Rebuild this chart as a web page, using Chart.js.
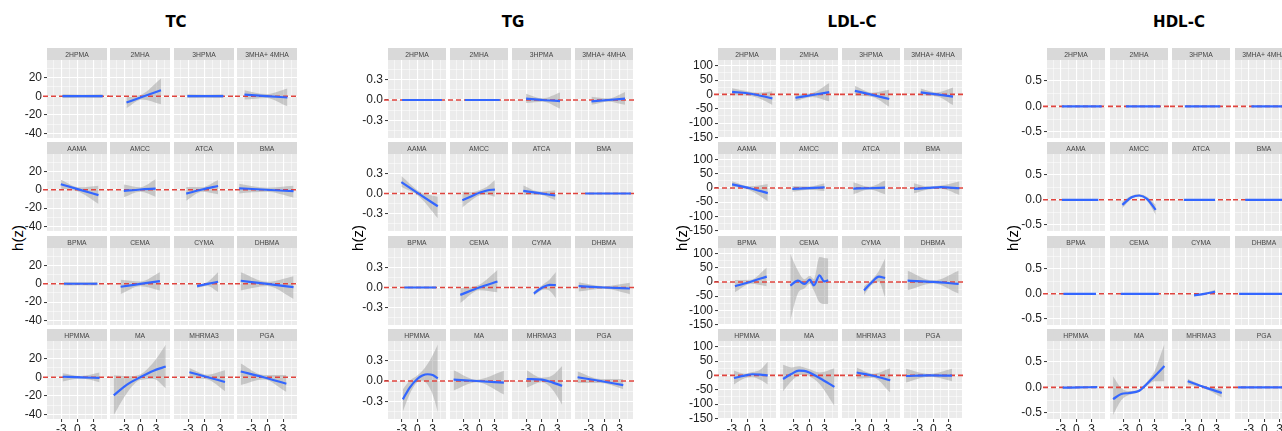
<!DOCTYPE html>
<html>
<head>
<meta charset="utf-8">
<script src="https://cdn.jsdelivr.net/npm/chart.js@4.4.1/dist/chart.umd.min.js"></script>
<style>
html, body { margin: 0; padding: 0; background: #fff; overflow: hidden; }
#wrap { position: relative; width: 1282px; height: 431px; overflow: hidden; background: #fff; }
.title { position: absolute; top: 13px; line-height: 18px; font: bold 15px "DejaVu Sans", sans-serif; color: #000; transform: translateX(-50%); white-space: nowrap; }
.strip { position: absolute; background: #D9D9D9; color: #444; font: 6.8px "Liberation Sans", Arial, sans-serif; display: flex; align-items: center; justify-content: center; white-space: nowrap; overflow: hidden; will-change: transform; }
.ylab { position: absolute; top: 238px; font: 15px "Liberation Sans", Arial, sans-serif; color: #000; transform: translate(-50%, -50%) rotate(-90deg); white-space: nowrap; }
canvas { position: absolute; }
</style>
</head>
<body>
<div id="wrap"></div>
<script>
// facet labels (same order in every block)
const FACETS = ['2HPMA', '2MHA', '3HPMA', '3MHA+ 4MHA', 'AAMA', 'AMCC', 'ATCA', 'BMA',
                'BPMA', 'CEMA', 'CYMA', 'DHBMA', 'HPMMA', 'MA', 'MHRMA3', 'PGA'];

const X_MAJOR = [-3, 0, 3];
const X_MINOR = [-4.5, -1.5, 1.5, 4.5];

const TC_MAJOR = [-40, -20, 0, 20];
const TC_MINOR = [-30, -10, 10, 30];
const TG_MAJOR = [-0.3, 0, 0.3];
const TG_MINOR = [-0.45, -0.15, 0.15, 0.45];
const LDL_MAJOR = [-150, -100, -50, 0, 50, 100];
const LDL_MINOR = [-125, -75, -25, 25, 75];
const HDL_MAJOR = [-0.5, 0, 0.5];
const HDL_MINOR = [-0.25, 0.25, 0.75];

// ---- TC ----
const TC_X = [
  [-2.8, 1, 4.8], [-2.6, 0.3, 3.9], [-3.2, 0.2, 3.6], [-4.3, -0.2, 3.8],
  [-3.1, 0.4, 4.0], [-3.1, 0, 2.9], [-3.4, -0.4, 2.6], [-5.3, -0.2, 4.95],
  [-2.5, 0.6, 3.8], [-3.7, 0, 3.7], [-1.35, 0.6, 2.6], [-5, 0, 4.95],
  [-2.75, 0.7, 4.2], [-5, -2.5, 0, 2.5, 4.8], [-2.8, 0.5, 3.9], [-5, -0.7, 3.6]
];
const TC_FIT = [
  [0, 0, 0], [-6.8, -0.9, 6.5], [0, 0, 0], [1.8, 0.2, -1.4],
  [6, 0.1, -5.8], [-1.3, 0.3, 1.2], [-4.2, 0.3, 4.1], [1.6, 0, -1.6],
  [0, 0, 0], [-3.3, -0.2, 2.9], [-2.6, -0.2, 2.2], [3.3, -0.2, -3.7],
  [0.5, -0.1, -0.8], [-19.6, -8, 0, 7, 11.5], [5.4, 0.2, -5.1], [6.2, 0, -7]
];
const TC_LO = [
  [-2, -1.6, -2], [-13, -3.5, -8.7], [-2, -1.6, -2], [-3.6, -1.8, -10.9],
  [1, -2.4, -15.5], [-8.3, -2.2, -7.5], [-12, -2.3, -5], [-4, -2.3, -8.5],
  [-2, -1.6, -2], [-11.3, -2.8, -7.3], [-4.5, -2.5, -9], [-7.3, -2.5, -16.5],
  [-4.7, -1.5, -5.4], [-41, -17, -3, -2, -12], [-1.1, -2.3, -15], [-8.5, -2.5, -16]
];
const TC_HI = [
  [2, 1.6, 2], [-1, 1.8, 19], [2, 1.6, 2], [6.5, 2.3, 8.4],
  [11, 2.6, 4.5], [5.8, 2.8, 11.4], [3, 2.8, 10.6], [6.5, 2.3, 4.5],
  [2, 1.6, 2], [4.3, 2.4, 12.6], [-0.7, 2, 12.6], [12.6, 2.1, 8.2],
  [4.4, 1.3, 5], [2, 1, 3, 16, 35], [9.8, 2.7, 7.5], [14.8, 2.5, 2.5]
];

// ---- TG ----
const TG_X = [
  [-2.95, 1, 4.8], [-2.8, 0.6, 4.0], [-3, 0.2, 3.5], [-2.5, 0.8, 4.05],
  [-3.1, 0.4, 4.0], [-3.3, -1.5, 0, 1.5, 3.05], [-3.55, -0.5, 2.6], [-3.7, 0.7, 5.2],
  [-2.5, 0.6, 3.7], [-3.7, 0, 3.55], [-1.5, -0.5, 0.5, 1.5, 2.7], [-5, 0, 5],
  [-2.8, -1.5, 0, 1, 2, 3, 4], [-5, -0.5, 4.8], [-2.9, 0, 2, 3.9], [-5.2, -0.7, 3.7]
];
const TG_FIT = [
  [0, 0, 0], [0, 0, 0], [0.02, 0, -0.015], [-0.02, 0, 0.02],
  [0.17, -0.01, -0.19], [-0.1, -0.04, 0.01, 0.045, 0.06], [0.04, 0.005, -0.03], [0, 0, 0],
  [0, 0, 0], [-0.11, 0, 0.09], [-0.09, -0.03, 0.015, 0.04, 0.035], [0.02, 0, -0.015],
  [-0.27, -0.1, 0.03, 0.08, 0.1, 0.09, 0.04], [0.02, 0, -0.025], [0.03, 0.02, -0.02, -0.07], [0.055, 0, -0.06]
];
const TG_LO = [
  [-0.012, -0.01, -0.012], [-0.012, -0.01, -0.012], [-0.044, -0.025, -0.127], [-0.07, -0.025, -0.07],
  [0.1, -0.05, -0.37], [-0.21, -0.1, -0.03, -0.02, -0.05], [-0.02, -0.02, -0.1], [-0.012, -0.01, -0.012],
  [-0.012, -0.01, -0.012], [-0.23, -0.04, -0.07], [-0.12, -0.06, -0.03, -0.05, -0.16], [-0.06, -0.02, -0.1],
  [-0.45, -0.2, -0.02, 0, -0.05, -0.2, -0.46], [-0.14, -0.02, -0.2], [-0.1, -0.02, -0.12, -0.35], [-0.03, -0.03, -0.12]
];
const TG_HI = [
  [0.012, 0.01, 0.012], [0.012, 0.01, 0.012], [0.094, 0.025, 0.11], [0.05, 0.025, 0.12],
  [0.26, 0.03, -0.05], [0.03, 0.02, 0.05, 0.1, 0.2], [0.12, 0.03, 0.05], [0.012, 0.01, 0.012],
  [0.012, 0.01, 0.012], [-0.01, 0.04, 0.26], [-0.06, 0, 0.06, 0.12, 0.23], [0.08, 0.02, 0.07],
  [-0.12, 0, 0.08, 0.15, 0.25, 0.38, 0.54], [0.16, 0.02, 0.15], [0.16, 0.05, 0.08, 0.22], [0.14, 0.03, 0.03]
];

// ---- LDL-C ----
const LDL_X = [
  [-2.96, 0, 2, 4.9], [-2.7, 0.6, 3.9], [-3.2, 0.2, 3.5], [-2.45, 0.7, 3.85],
  [-2.96, 0.5, 4.0], [-3.3, 0, 3.0], [-3.5, -0.4, 2.7], [-3.75, -1, 1.5, 5.1],
  [-2.4, 0.7, 3.8], [-3.7, -2.2, -0.9, 0.1, 0.9, 2.0, 2.9, 3.7], [-1.4, 0, 1.5, 2.7], [-5, 0, 4.95],
  [-2.6, -0.5, 1, 2.5, 4], [-5.1, -3.5, -2, -1, 0, 2, 4.9], [-2.85, 0.4, 3.7], [-5.3, -0.8, 3.65]
];
const LDL_FIT = [
  [9, 4, -2, -14], [-11.6, -2, 8], [12.5, -1.5, -16], [7, 0, -8],
  [12.6, -1, -18], [-3, -0.5, 2], [-2, -1, 1], [-3.5, 0, 3, -1],
  [-15, 1, 19], [-12.8, 4.6, -7, 8, -11.9, 23, 2.3, 5.7], [-30, -3, 19, 14], [4.6, 0, -7],
  [-9, -1, 4, 3, 0], [-12.6, 5, 17, 16, 10, -9, -40], [10, -1, -17], [-2, 0, -1]
];
const LDL_LO = [
  [-3, -4, -12, -37], [-24, -9, -25], [-5, -9, -43], [-4, -7, -37],
  [3, -8, -47], [-13, -6, -11], [-22, -5, -22], [-19, -5, -3, -25],
  [-36, -6, -15], [-136, -40, -22, -6, -30, -72, -78, -78], [-46, -12, 0, -55], [-29, -5, -41],
  [-32, -10, -6, -15, -32], [-55, -20, 0, 2, -3, -30, -107], [-12, -8, -60], [-25, -5, -20]
];
const LDL_HI = [
  [21.7, 11, 6, 11], [0, 5, 40], [30, 6, 16], [21, 7, 24],
  [24, 6, 14], [7, 5, 17], [20, 4, 26], [17, 5, 9, 23],
  [7, 8, 51], [100, 40, 10, 22, 10, 88, 85, 83], [-15, 6, 40, 83], [40, 5, 40],
  [17, 6, 12, 20, 48], [37, 28, 32, 28, 22, 10, 25], [28, 6, 25], [23, 5, 23]
];

// ---- HDL-C ----
const HDL_X = [
  [-2.8, 1, 4.96], [-2.6, 0.8, 4.1], [-3.2, 0.2, 3.7], [-2.5, 0.8, 4.1],
  [-2.8, 0.7, 4.3], [-3.3, -1.5, 0, 1.5, 3.2], [-3.4, -0.3, 2.7], [-3.7, 0.5, 5.0],
  [-2.5, 0.7, 3.85], [-3.6, 0.1, 3.8], [-1.4, 0.6, 2.7], [-4.9, 0, 5.0],
  [-2.65, 0.7, 4.1], [-5.1, -3.5, -2, 0, 1, 2, 3, 4.9], [-2.65, 0.7, 4.0], [-5.1, 0, 5.0]
];
const HDL_FIT = [
  [0, 0, 0], [0, 0, 0], [0, 0, 0], [0, 0, 0],
  [0, 0, 0], [-0.1, 0.05, 0.085, 0.02, -0.2], [0, 0, 0], [0, 0, 0],
  [0, 0, 0], [0, 0, 0], [-0.03, 0, 0.04], [0, 0, 0],
  [-0.005, 0, 0.005], [-0.23, -0.13, -0.11, -0.065, 0.02, 0.12, 0.22, 0.42], [0.12, 0, -0.11], [0, 0, 0]
];
const HDL_LO = [
  [-0.008, -0.006, -0.008], [-0.008, -0.006, -0.008], [-0.008, -0.006, -0.008], [-0.008, -0.006, -0.008],
  [-0.008, -0.006, -0.008], [-0.17, 0.02, 0.06, -0.02, -0.3], [-0.008, -0.006, -0.008], [-0.008, -0.006, -0.008],
  [-0.008, -0.006, -0.008], [-0.008, -0.006, -0.008], [-0.05, -0.015, 0.01], [-0.008, -0.006, -0.008],
  [-0.017, -0.01, -0.012], [-0.54, -0.25, -0.15, -0.09, -0.01, 0.07, 0.12, 0.12], [0.06, -0.02, -0.2], [-0.008, -0.006, -0.008]
];
const HDL_HI = [
  [0.008, 0.006, 0.008], [0.008, 0.006, 0.008], [0.008, 0.006, 0.008], [0.008, 0.006, 0.008],
  [0.008, 0.006, 0.008], [-0.03, 0.08, 0.11, 0.06, -0.1], [0.008, 0.006, 0.008], [0.008, 0.006, 0.008],
  [0.008, 0.006, 0.008], [0.008, 0.006, 0.008], [-0.01, 0.015, 0.08], [0.008, 0.006, 0.008],
  [0.007, 0.01, 0.022], [0.22, -0.01, -0.07, -0.04, 0.05, 0.17, 0.32, 0.85], [0.17, 0.02, -0.04], [0.008, 0.006, 0.008]
];

// layout of the four blocks
const groups = [
  { title: 'TC', titleX: 176, ylabX: 17, x0: 47, period: 63.3, w: 60,
    ymin: -45, ymax: 39, major: TC_MAJOR, minor: TC_MINOR, dec: 0,
    X: TC_X, FIT: TC_FIT, LO: TC_LO, HI: TC_HI },
  { title: 'TG', titleX: 513, ylabX: 357, x0: 387.5, period: 62.4, w: 58.3,
    ymin: -0.56, ymax: 0.59, major: TG_MAJOR, minor: TG_MINOR, dec: 1,
    X: TG_X, FIT: TG_FIT, LO: TG_LO, HI: TG_HI },
  { title: 'LDL-C', titleX: 852, ylabX: 681, x0: 718.3, period: 61.9, w: 57.7,
    ymin: -152, ymax: 120, major: LDL_MAJOR, minor: LDL_MINOR, dec: 0,
    X: LDL_X, FIT: LDL_FIT, LO: LDL_LO, HI: LDL_HI },
  { title: 'HDL-C', titleX: 1179, ylabX: 1012, x0: 1047, period: 62.5, w: 58.3,
    ymin: -0.62, ymax: 0.91, major: HDL_MAJOR, minor: HDL_MINOR, dec: 1,
    X: HDL_X, FIT: HDL_FIT, LO: HDL_LO, HI: HDL_HI }
];

const ROW_TOP = 48, ROW_STEP = 93.8, STRIP_H = 12, PANEL_H = 77.5;
const AXIS_W = 38, XAXIS_H = 16, EDGE = 8;
const X_MIN = -5.7, X_MAX = 5.6;
const TICK_FONT = { family: "'Liberation Sans', Arial, sans-serif", size: 12 };

Chart.defaults.font.family = "'Liberation Sans', Arial, sans-serif";

const wrap = document.getElementById('wrap');

function isMajor(list, v) {
  return list.some(m => Math.abs(m - v) < 1e-9);
}

const panelPlugin = {
  id: 'panelBits',
  beforeDraw(chart) {
    const a = chart.chartArea, ctx = chart.ctx;
    ctx.save();
    ctx.fillStyle = '#EBEBEB';
    ctx.fillRect(a.left, a.top, a.right - a.left, a.bottom - a.top);
    ctx.restore();
  },
  beforeDatasetDraw(chart, args, opts) {
    if (args.index !== 0) return;
    const a = chart.chartArea, ctx = chart.ctx;
    const y = chart.scales.y.getPixelForValue(0);
    ctx.save();
    ctx.strokeStyle = '#E0443E';
    ctx.lineWidth = 1.6;
    ctx.setLineDash([5, 3]);
    ctx.beginPath();
    ctx.moveTo(a.left - opts.extL, y);
    ctx.lineTo(a.right + 2, y);
    ctx.stroke();
    ctx.restore();
  }
};

function addDiv(cls, text, css) {
  const d = document.createElement('div');
  d.className = cls;
  d.textContent = text;
  Object.assign(d.style, css);
  wrap.appendChild(d);
  return d;
}

function makeFacet(g, i) {
  const r = Math.floor(i / 4), c = i % 4;
  const left = Math.round(g.x0 + c * g.period);
  const right = Math.round(g.x0 + c * g.period + g.w);
  const stripTop = Math.round(ROW_TOP + r * ROW_STEP);
  const pTop = stripTop + STRIP_H;
  const pBot = Math.round(ROW_TOP + r * ROW_STEP + STRIP_H + PANEL_H);

  addDiv('strip', FACETS[i], {
    left: left + 'px', top: stripTop + 'px',
    width: (right - left) + 'px', height: STRIP_H + 'px'
  });

  const padL = c === 0 ? AXIS_W : 2;
  const padB = r === 3 ? XAXIS_H : EDGE;
  const cw = padL + (right - left) + 2;
  const ch = EDGE + (pBot - pTop) + padB;
  const cv = document.createElement('canvas');
  cv.width = cw; cv.height = ch;
  cv.style.left = (left - padL) + 'px';
  cv.style.top = (pTop - EDGE) + 'px';
  cv.style.width = cw + 'px';
  cv.style.height = ch + 'px';
  wrap.appendChild(cv);

  const xs = g.X[i];
  const pts = arr => xs.map((x, k) => ({ x: x, y: arr[k] }));
  const yAll = g.minor.concat(g.major).sort((a, b) => a - b);
  const xAll = X_MINOR.concat(X_MAJOR).sort((a, b) => a - b);

  new Chart(cv, {
    type: 'line',
    data: {
      datasets: [
        { data: pts(g.FIT[i]), borderColor: '#3366FF', borderWidth: 2.2, pointRadius: 0, fill: false },
        { data: pts(g.LO[i]), borderColor: 'transparent', borderWidth: 0, pointRadius: 0, fill: false },
        { data: pts(g.HI[i]), borderColor: 'transparent', borderWidth: 0, pointRadius: 0,
          fill: '-1', backgroundColor: 'rgba(150,150,150,0.45)' }
      ]
    },
    options: {
      responsive: false,
      animation: false,
      devicePixelRatio: 1,
      events: [],
      elements: { line: { cubicInterpolationMode: 'monotone' } },
      layout: { padding: { top: EDGE, bottom: r === 3 ? 0 : EDGE, left: c === 0 ? 0 : 2, right: 2 } },
      plugins: {
        legend: { display: false },
        tooltip: { enabled: false },
        panelBits: { extL: c === 0 ? 4 : 2 }
      },
      scales: {
        x: {
          type: 'linear', min: X_MIN, max: X_MAX,
          border: { display: false },
          grid: {
            color: '#FFFFFF',
            lineWidth: ctx => (ctx.tick && isMajor(X_MAJOR, ctx.tick.value)) ? 1.1 : 0.5,
            drawTicks: r === 3,
            tickLength: 3,
            tickWidth: 1,
            tickColor: ctx => (ctx.tick && isMajor(X_MAJOR, ctx.tick.value)) ? '#333333' : 'rgba(0,0,0,0)'
          },
          ticks: {
            display: r === 3, autoSkip: false, maxRotation: 0, padding: 0,
            color: '#1e1e1e', font: TICK_FONT,
            callback: v => isMajor(X_MAJOR, v) ? String(v) : ''
          },
          afterBuildTicks: s => { s.ticks = xAll.map(v => ({ value: v })); },
          afterFit: s => { s.height = r === 3 ? XAXIS_H : 0; s.paddingLeft = 0; s.paddingRight = 0; }
        },
        y: {
          type: 'linear', min: g.ymin, max: g.ymax,
          border: { display: false },
          grid: {
            color: '#FFFFFF',
            lineWidth: ctx => (ctx.tick && isMajor(g.major, ctx.tick.value)) ? 1.1 : 0.5,
            drawTicks: c === 0,
            tickLength: 3,
            tickWidth: 1,
            tickColor: ctx => (ctx.tick && isMajor(g.major, ctx.tick.value)) ? '#333333' : 'rgba(0,0,0,0)'
          },
          ticks: {
            display: c === 0, autoSkip: false, padding: 2,
            color: '#1e1e1e', font: TICK_FONT,
            callback: v => isMajor(g.major, v) ? v.toFixed(g.dec) : ''
          },
          afterBuildTicks: s => { s.ticks = yAll.map(v => ({ value: v })); },
          afterFit: s => { s.width = c === 0 ? AXIS_W : 0; s.paddingTop = 0; s.paddingBottom = 0; }
        }
      }
    },
    plugins: [panelPlugin]
  });
}

groups.forEach(g => {
  addDiv('title', g.title, { left: g.titleX + 'px' });
  addDiv('ylab', 'h(z)', { left: g.ylabX + 'px' });
  for (let i = 0; i < 16; i++) makeFacet(g, i);
});
</script>
</body>
</html>
